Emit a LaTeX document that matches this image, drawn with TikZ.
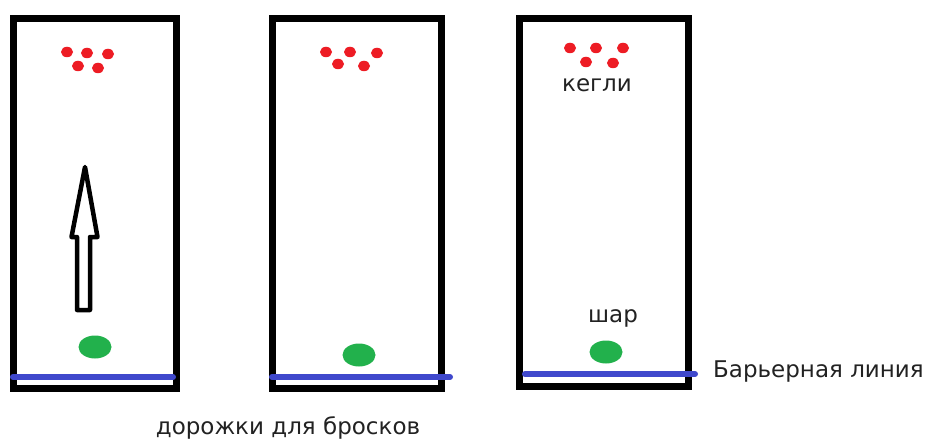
\documentclass[tikz,border=0pt]{standalone}
\usepackage{fontspec}
\setmainfont{DejaVu Sans}
\usetikzlibrary{positioning,shapes.geometric}

\definecolor{pinred}{HTML}{ED1C24}
\definecolor{ballgreen}{HTML}{22B14C}
\definecolor{lineblue}{HTML}{3F48CC}
\definecolor{textgray}{HTML}{222222}

\begin{document}
\begin{tikzpicture}[x=1pt,y=-1pt,line join=round]
  \tikzstyle{lane}=[draw=black,line width=7pt,line join=miter]
  \tikzstyle{pin}=[ellipse,fill=pinred,inner sep=0pt,minimum width=12pt,minimum height=10.5pt]
  \tikzstyle{ball}=[ellipse,fill=ballgreen,inner sep=0pt,minimum width=33pt,minimum height=23pt]
  \tikzstyle{barrier}=[draw=lineblue,line width=6pt,line cap=round]
  \tikzstyle{label}=[text=textgray,font=\fontsize{23}{26}\selectfont,inner sep=0pt]

  \useasboundingbox (0,0) rectangle (929,441);

  % Lanes
  \draw[lane] (13.5,18.5) rectangle (176.5,388.5);
  \draw[lane] (272.5,18.5) rectangle (441.5,388.5);
  \draw[lane] (519.5,18.5) rectangle (688.5,386.5);

  % Left lane
  \node[pin] (p11) at (67,52) {};
  \node[pin] (p12) at (87,53) {};
  \node[pin] (p13) at (108,54) {};
  \node[pin] (p14) at (78,66) {};
  \node[pin] (p15) at (98,68) {};
  \node[ball] (ball1) at (95,347) {};
  \coordinate (b1s) at (13,377);
  \coordinate (b1e) at (173,377);
  \draw[barrier] (b1s) -- (b1e);

  % Throw direction
  \draw[line width=4.5pt] (77,310) -- (77,237) -- (71.5,237) -- (85,167)
    -- (97.5,237) -- (90,237) -- (90,310) -- cycle;

  % Middle lane
  \node[pin] (p21) at (326,52) {};
  \node[pin] (p22) at (350,52) {};
  \node[pin] (p23) at (377,53) {};
  \node[pin] (p24) at (338,64) {};
  \node[pin] (p25) at (364,66) {};
  \node[ball] (ball2) at (359,355) {};
  \coordinate (b2s) at (272,377);
  \coordinate (b2e) at (450,377);
  \draw[barrier] (b2s) -- (b2e);

  % Right lane
  \node[pin] (p31) at (570,48) {};
  \node[pin] (p32) at (596,48) {};
  \node[pin] (p33) at (623,48) {};
  \node[pin] (p34) at (586,62) {};
  \node[pin] (p35) at (613,63) {};
  \node[ball] (ball3) at (606,352) {};
  \node[label] (pins) at (597,85) {кегли};
  \node[label] (balltxt) at (613,318) {шар};
  \coordinate (b3s) at (525,374);
  \coordinate (b3e) at (695,374);
  \draw[barrier] (b3s) -- (b3e);

  % Captions
  \node[label,anchor=west] (barriertxt) at (713,372) {Барьерная линия};
  \node[label,anchor=base] (lanes) at (288,434) {дорожки для бросков};
\end{tikzpicture}
\end{document}
